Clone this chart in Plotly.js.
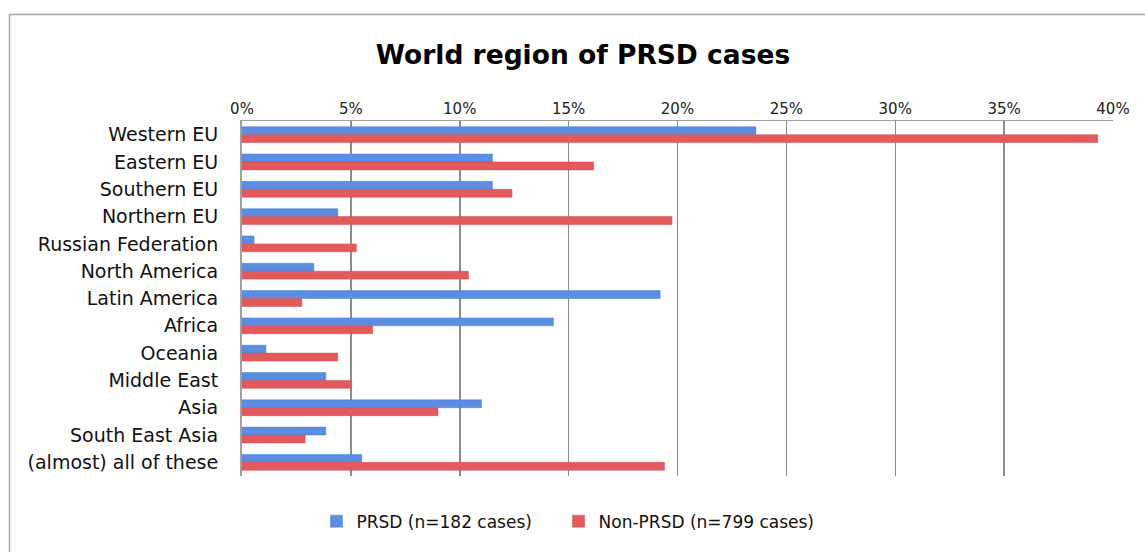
<!DOCTYPE html>
<html>
<head>
<meta charset="utf-8">
<script src="https://cdn.plot.ly/plotly-3.0.1.min.js"></script>
<style>
html,body{margin:0;padding:0;background:#fff;}
#chart{width:1145px;height:552px;}
</style>
</head>
<body>
<div id="chart"></div>
<script>
const regions = ["Western EU","Eastern EU","Southern EU","Northern EU","Russian Federation","North America","Latin America","Africa","Oceania","Middle East","Asia","South East Asia","(almost) all of these"];
const prsd = [23.6, 11.5, 11.5, 4.4, 0.55, 3.3, 19.2, 14.3, 1.1, 3.85, 11.0, 3.85, 5.5];
const nonPrsd = [39.3, 16.15, 12.4, 19.75, 5.25, 10.4, 2.75, 6.0, 4.4, 5.0, 9.0, 2.9, 19.4];
const seriesNames = ["PRSD (n=182 cases)", "Non-PRSD (n=799 cases)"];
const tickVals = [0,5,10,15,20,25,30,35,40];
const tickText = ["0%","5%","10%","15%","20%","25%","30%","35%","40%"];

const font = "'DejaVu Sans', sans-serif";
const pad = "\u00a0\u00a0\u00a0\u00a0";
const traces = [
  {type:'bar', orientation:'h', name:seriesNames[0] + pad, y:regions, x:prsd,
   marker:{color:'#5b8ee3', line:{color:'#4a7fd6', width:0.5}}},
  {type:'bar', orientation:'h', name:seriesNames[1], y:regions, x:nonPrsd,
   marker:{color:'#e35a5d', line:{color:'#d04a4e', width:0.5}}}
];
const W0 = 242, W1 = 1113, H0 = 121, H1 = 479;
const pw = W1 - W0, ph = H1 - H0;
const layout = {
  width:1145, height:552,
  margin:{l:W0, r:1145-W1, t:H0, b:552-H1, pad:0},
  paper_bgcolor:'#fff', plot_bgcolor:'#fff',
  title:{text:'<b>World region of PRSD cases</b>', font:{family:font, size:26.5, color:'#000'}, x:583/1145, xref:'container', xanchor:'center', y:1-55/552, yanchor:'middle'},
  barmode:'group', bargap:0.42, bargroupgap:0,
  xaxis:{side:'top', range:[0,40], tickvals:tickVals, ticktext:tickText, showgrid:true, gridcolor:'#8c8c8c', gridwidth:1.5,
         showline:true, linecolor:'#a0a0a0', linewidth:1.5, mirror:false, zeroline:false, ticks:'', ticklen:0,
         tickfont:{family:font, size:15, color:'#222'}, fixedrange:true},
  yaxis:{autorange:'reversed', showline:true, linecolor:'#a0a0a0', linewidth:2, ticks:'', showgrid:false,
         tickfont:{family:font, size:19, color:'#111'}, ticklabelstandoff:18, fixedrange:true},
  showlegend:true,
  legend:{orientation:'h', xanchor:'center', y:-(525-H1)/ph, yanchor:'middle', xref:'paper',
          font:{family:font, size:17, color:'#111'}, itemwidth:30, traceorder:'normal'},
  shapes:[
    {type:'line', xref:'paper', yref:'paper', x0:(9-W0)/pw, x1:(1150-W0)/pw, y0:(H1-13.5)/ph, y1:(H1-13.5)/ph, line:{color:'#a8a8a8', width:1.5}},
    {type:'line', xref:'paper', yref:'paper', x0:(9.5-W0)/pw, x1:(9.5-W0)/pw, y0:(H1-13)/ph, y1:(H1-560)/ph, line:{color:'#a8a8a8', width:1.5}}
  ]
};
layout.legend.x = (568 - W0)/pw;
Plotly.newPlot('chart', traces, layout, {displayModeBar:false, staticPlot:true});
</script>
</body>
</html>
